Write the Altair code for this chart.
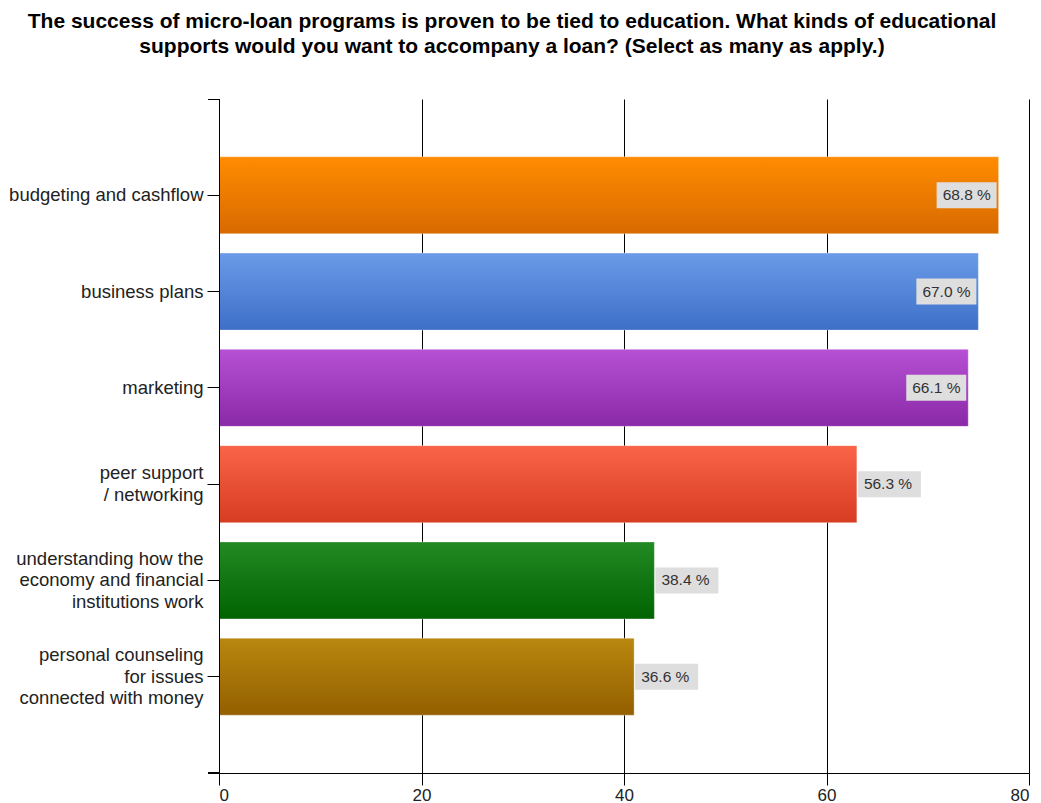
import altair as alt
import pandas as pd

categories = [
    "budgeting and cashflow",
    "business plans",
    "marketing",
    "peer support\n/ networking",
    "understanding how the\neconomy and financial\ninstitutions work",
    "personal counseling\nfor issues\nconnected with money",
]
counts = [77, 75, 74, 63, 43, 41]
percents = [68.8, 67.0, 66.1, 56.3, 38.4, 36.6]
x_ticks = [0, 20, 40, 60, 80]

title_lines = [
    "The success of micro-loan programs is proven to be tied to education. What kinds of educational",
    "supports would you want to accompany a loan? (Select as many as apply.)",
]

# style: top / bottom gradient colours per bar
grad_top = ["#ff8c00", "#6a9be8", "#b650d4", "#fa6448", "#238a23", "#b8880f"]
grad_bottom = ["#d86a00", "#3d6fc8", "#8a2aa8", "#d63c22", "#006300", "#935f00"]

df = pd.DataFrame({"cat": categories, "count": counts, "pct": percents})
df["label"] = [f"{p:.1f} %" for p in percents]

FONT = "Liberation Sans"
W, H = 810, 674
LH = 21.5

y_enc = alt.Y(
    "cat:N",
    sort=categories,
    scale=alt.Scale(domain=categories, paddingInner=0.2, paddingOuter=0.6),
    axis=alt.Axis(
        title=None,
        labelExpr="split(datum.label, '\\n')",
        labelFont=FONT,
        labelFontSize=18.5,
        labelColor="#222222",
        labelLineHeight=LH,
        labelPadding=4,
        labelLimit=300,
        labelOffset={
            "condition": [
                {"test": "length(split(datum.label, '\\n')) == 3", "value": -LH},
                {"test": "length(split(datum.label, '\\n')) == 2", "value": -LH / 2},
            ],
            "value": 0,
        },
        tickSize=12,
        tickColor="black",
        domainColor="black",
        grid=False,
        zindex=1,
    ),
)
x_enc = alt.X(
    "count:Q",
    scale=alt.Scale(domain=[0, 80], nice=False),
    axis=alt.Axis(
        title=None,
        values=x_ticks,
        labelFont=FONT,
        labelFontSize=17,
        labelColor="#222222",
        labelPadding=2,
        tickSize=12,
        tickColor="black",
        domainColor="black",
        grid=True,
        gridColor="black",
        gridOpacity=1,
        zindex=0,
    ),
)

base = alt.Chart(df)

bar_layers = []
for i, c in enumerate(categories):
    grad = alt.LinearGradient(
        gradient="linear",
        stops=[
            alt.GradientStop(offset=0, color=grad_top[i]),
            alt.GradientStop(offset=1, color=grad_bottom[i]),
        ],
        x1=0, x2=0, y1=0, y2=1,
    )
    bar_layers.append(
        base.transform_filter(alt.datum.cat == c)
        .mark_bar(color=grad, stroke="#ffffff", strokeOpacity=0.35, strokeWidth=1)
        .encode(x=x_enc, y=y_enc)
    )

inside = base.transform_filter(alt.datum.count >= 70)
outside = base.transform_filter(alt.datum.count < 70)

box_in = inside.mark_bar(size=26, color="#dedede", xOffset=-62, x2Offset=-2).encode(
    x="count:Q", x2="count:Q", y=alt.Y("cat:N", sort=categories)
)
txt_in = inside.mark_text(
    align="left", baseline="middle", dx=-56, font=FONT, fontSize=15.5, color="#333333"
).encode(x="count:Q", y=alt.Y("cat:N", sort=categories), text="label:N")

box_out = outside.mark_bar(size=26, color="#dedede", xOffset=1, x2Offset=64).encode(
    x="count:Q", x2="count:Q", y=alt.Y("cat:N", sort=categories)
)
txt_out = outside.mark_text(
    align="left", baseline="middle", dx=7, font=FONT, fontSize=15.5, color="#333333"
).encode(x="count:Q", y=alt.Y("cat:N", sort=categories), text="label:N")

top_tick = alt.Chart(df).mark_rule(color="black").encode(
    x=alt.value(-11), x2=alt.value(0.5), y=alt.value(0.5)
)
bottom_tick = alt.Chart(df).mark_rule(color="black").encode(
    x=alt.value(-11), x2=alt.value(0.5), y=alt.value(H)
)

chart = (
    alt.layer(*bar_layers, box_in, txt_in, box_out, txt_out, top_tick, bottom_tick)
    .properties(
        width=W,
        height=H,
        background="white",
        padding={"left": 219, "top": 99, "right": 12, "bottom": 30},
        autosize=alt.AutoSizeParams(type="none"),
        title=alt.TitleParams(
            text=title_lines,
            font=FONT,
            fontSize=21,
            fontWeight="bold",
            color="black",
            anchor="middle",
            frame="group",
            dx=-112,
            offset=42,
            lineHeight=25,
        ),
    )
    .configure_view(strokeWidth=0, stroke="transparent")
)

chart.save("out.html", embed_options={"renderer": "svg", "actions": False})
